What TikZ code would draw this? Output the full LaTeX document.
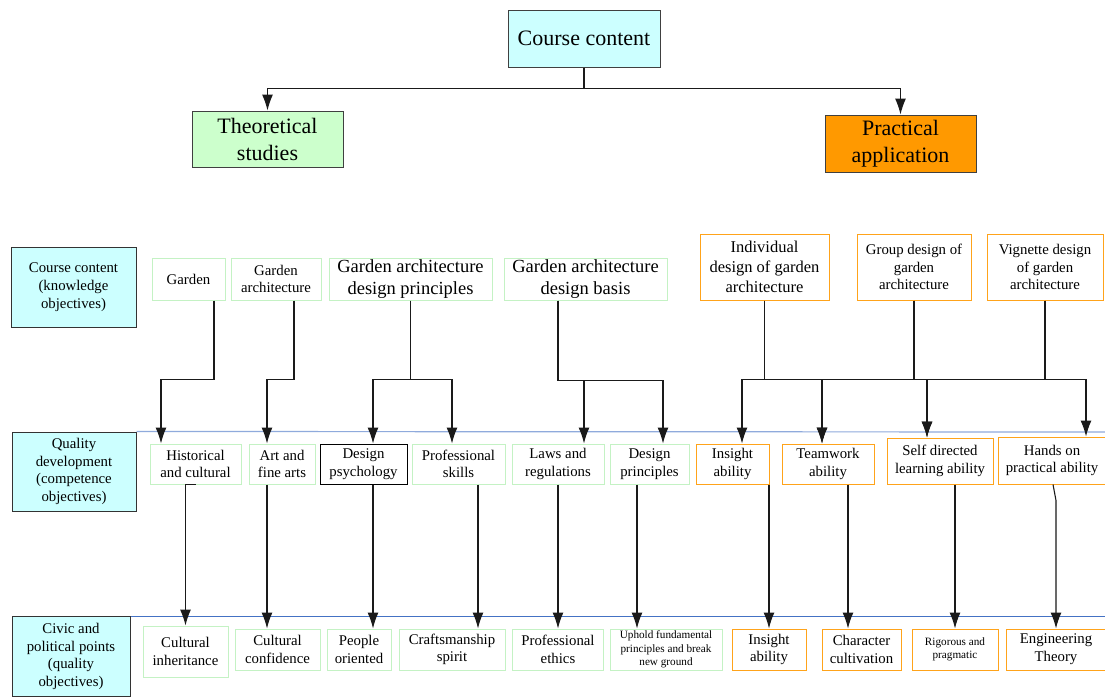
\documentclass[tikz,border=0pt]{standalone}
\usepackage{fontspec}
\setmainfont{Liberation Serif}
\usetikzlibrary{arrows.meta}
\definecolor{cyanf}{HTML}{CCFFFF}
\definecolor{greenf}{HTML}{CCFFCC}
\definecolor{orangef}{HTML}{FF9900}
\definecolor{gborder}{HTML}{C4F2C4}
\definecolor{oborder}{HTML}{FFA31A}
\definecolor{blueA}{HTML}{8FAADC}
\definecolor{blueB}{HTML}{4472C4}
\definecolor{lineg}{HTML}{1A1A1A}
\begin{document}
\begin{tikzpicture}[x=1pt,y=-1pt,
  box/.style={draw, fill=white, inner sep=0pt, align=center, line width=1pt},
  topbox/.style={box, draw=black!75, font=\fontsize{22}{27}\selectfont},
  labbox/.style={box, draw=black!80, fill=cyanf, font=\fontsize{14.8}{17.8}\selectfont},
  gbox/.style={box, draw=gborder, font=\fontsize{14.8}{17.7}\selectfont},
  obox/.style={box, draw=oborder, font=\fontsize{14.8}{17.7}\selectfont},
  conn/.style={draw=lineg, line width=1.1pt},
  arr/.style={conn, -{Latex[length=16pt,width=11pt]}},
]
\fill[white] (0,0) rectangle (1105,696);
\useasboundingbox (0,0) rectangle (1105,696);

% top
\node[topbox, fill=cyanf, minimum width=152pt, minimum height=57pt] (cc) at (584,38.5) {Course content};
\node[topbox, fill=greenf, minimum width=151pt, minimum height=56pt] (theo) at (267.5,139) {Theoretical\\studies};
\node[topbox, fill=orangef, minimum width=151pt, minimum height=57pt] (prac) at (900.5,143.5) {Practical\\application};

% left labels
\node[labbox, minimum width=125pt, minimum height=80pt] (L1) at (73.5,287) {Course content\\(knowledge\\objectives)};
\node[labbox, minimum width=124pt, minimum height=79pt] (L2) at (74,471.5) {Quality\\development\\(competence\\objectives)};
\node[labbox, minimum width=118pt, minimum height=80pt] (L3) at (71,656.5) {Civic and\\political points\\(quality\\objectives)};

% blue lines
\draw[blueA, line width=1.2pt] (L2.north east) -- (1105,432);
\draw[blueB, line width=1pt] (L3.north east) -- (1105,616);

% row 1
\node[gbox, minimum width=73pt, minimum height=42pt] (garden) at (188.5,279) {Garden};
\node[gbox, minimum width=90pt, minimum height=42pt] (garch) at (276,279) {Garden\\architecture};
\node[gbox, minimum width=163pt, minimum height=42pt, font=\fontsize{18.5}{22.5}\selectfont] (gadp) at (410.5,279) {Garden architecture\\design principles};
\node[gbox, minimum width=163pt, minimum height=42pt, font=\fontsize{18.5}{22.5}\selectfont] (gadb) at (585.5,279) {Garden architecture\\design basis};
\node[obox, minimum width=129pt, minimum height=66pt, font=\fontsize{16.5}{20}\selectfont] (indiv) at (764.5,267) {Individual\\design of garden\\architecture};
\node[obox, minimum width=114pt, minimum height=66pt] (group) at (914,267) {Group design of\\garden\\architecture};
\node[obox, minimum width=116pt, minimum height=66pt] (vign) at (1045,267) {Vignette design\\of garden\\architecture};

% row 2
\node[gbox, minimum width=91pt, minimum height=40pt] (hist) at (195.5,464) {Historical\\and cultural};
\node[gbox, minimum width=66pt, minimum height=40pt] (art) at (282,464) {Art and\\fine arts};
\node[box, draw=black, minimum width=87pt, minimum height=40pt, font=\fontsize{14.8}{17.7}\selectfont] (dpsy) at (363.5,464) {Design\\psychology};
\node[gbox, minimum width=93pt, minimum height=40pt] (pskill) at (458.5,464) {Professional\\skills};
\node[gbox, minimum width=92pt, minimum height=40pt] (laws) at (558,464) {Laws and\\regulations};
\node[gbox, minimum width=79pt, minimum height=40pt] (dprin) at (649.5,464) {Design\\principles};
\node[obox, minimum width=73pt, minimum height=40pt] (insight) at (732.5,464) {Insight\\ability};
\node[obox, minimum width=92pt, minimum height=40pt] (team) at (828,464) {Teamwork\\ability};
\node[obox, minimum width=106pt, minimum height=46pt] (self) at (940,461) {Self directed\\learning ability};
\node[obox, minimum width=108pt, minimum height=47pt] (hands) at (1052,460.5) {Hands on\\practical ability};

% row 3
\node[gbox, minimum width=85pt, minimum height=51pt] (ci) at (185.5,651.5) {Cultural\\inheritance};
\node[gbox, minimum width=85pt, minimum height=41pt] (cc2) at (277.5,649.5) {Cultural\\confidence};
\node[gbox, minimum width=64pt, minimum height=41pt] (people) at (359,649.5) {People\\oriented};
\node[gbox, minimum width=106pt, minimum height=41pt] (craft) at (452,649.5) {Craftsmanship\\spirit};
\node[gbox, minimum width=91pt, minimum height=41pt] (pethics) at (558,649.5) {Professional\\ethics};
\node[gbox, minimum width=112pt, minimum height=41pt, font=\fontsize{11.2}{13.3}\selectfont] (uphold) at (666,649.5) {Uphold fundamental\\principles and break\\new ground};
\node[obox, minimum width=74pt, minimum height=41pt] (ins2) at (769,649.5) {Insight\\ability};
\node[obox, minimum width=79pt, minimum height=41pt] (charc) at (861.5,649.5) {Character\\cultivation};
\node[obox, minimum width=86pt, minimum height=41pt, font=\fontsize{11.2}{12.8}\selectfont] (rig) at (955,649.5) {Rigorous and\\pragmatic};
\node[obox, minimum width=100pt, minimum height=41pt] (eng) at (1056,649.5) {Engineering\\Theory};

% top connectors
\draw[arr] (cc.south) -- ++(0,21) -| (theo.north);
\draw[arr] (cc.south) -- ++(0,21) -| (prac.north);

% row 1 -> row 2
\draw[arr] ([xshift=25.5pt]garden.south) -- ++(0,79) -| ([xshift=-34.5pt]hist.north);
\draw[arr] ([xshift=18pt]garch.south) -- ++(0,79) -| ([xshift=-15pt]art.north);
\draw[arr] (gadp.south) -- ++(0,79) -| ([xshift=9.5pt]dpsy.north);
\draw[arr] (gadp.south) -- ++(0,79) -| ([xshift=-6.5pt]pskill.north);
\draw[arr] ([xshift=-27.5pt]gadb.south) -- ++(0,80) -| ([xshift=26pt]laws.north);
\draw[arr] ([xshift=-27.5pt]gadb.south) -- ++(0,80) -| ([xshift=13.5pt]dprin.north);
\draw[arr] (indiv.south) -- ++(0,79) -| ([xshift=9.5pt]insight.north);
\draw[arr] (indiv.south) -- ++(0,79) -| ([xshift=-6pt]team.north);
\draw[arr] (group.south) -- ++(0,79) -| ([xshift=-6pt]team.north);
\draw[arr] (group.south) -- ++(0,79) -| ([xshift=-13pt]self.north);
\draw[arr] (vign.south) -- ++(0,79) -| ([xshift=-13pt]self.north);
\draw[arr] (vign.south) -- ++(0,79) -| ([xshift=34pt]hands.north);

% row 2 -> row 3
\draw[arr] (hist.south) -| (ci.north);
\draw[arr] ([xshift=-15pt]art.south) -- ([xshift=-10.5pt]cc2.north);
\draw[arr] ([xshift=9.5pt]dpsy.south) -- ([xshift=14pt]people.north);
\draw[arr] ([xshift=19.5pt]pskill.south) -- ([xshift=26pt]craft.north);
\draw[arr] (laws.south) -- (pethics.north);
\draw[arr] ([xshift=-12.5pt]dprin.south) -- ([xshift=-29pt]uphold.north);
\draw[arr] ([xshift=36.5pt]insight.south) -- (ins2.north);
\draw[arr] ([xshift=20pt]team.south) -- ([xshift=-13.5pt]charc.north);
\draw[arr] ([xshift=15pt]self.south) -- (rig.north);
\draw[arr] ([xshift=1pt]hands.south) -- ++(3,16) -- (eng.north);
\end{tikzpicture}
\end{document}
